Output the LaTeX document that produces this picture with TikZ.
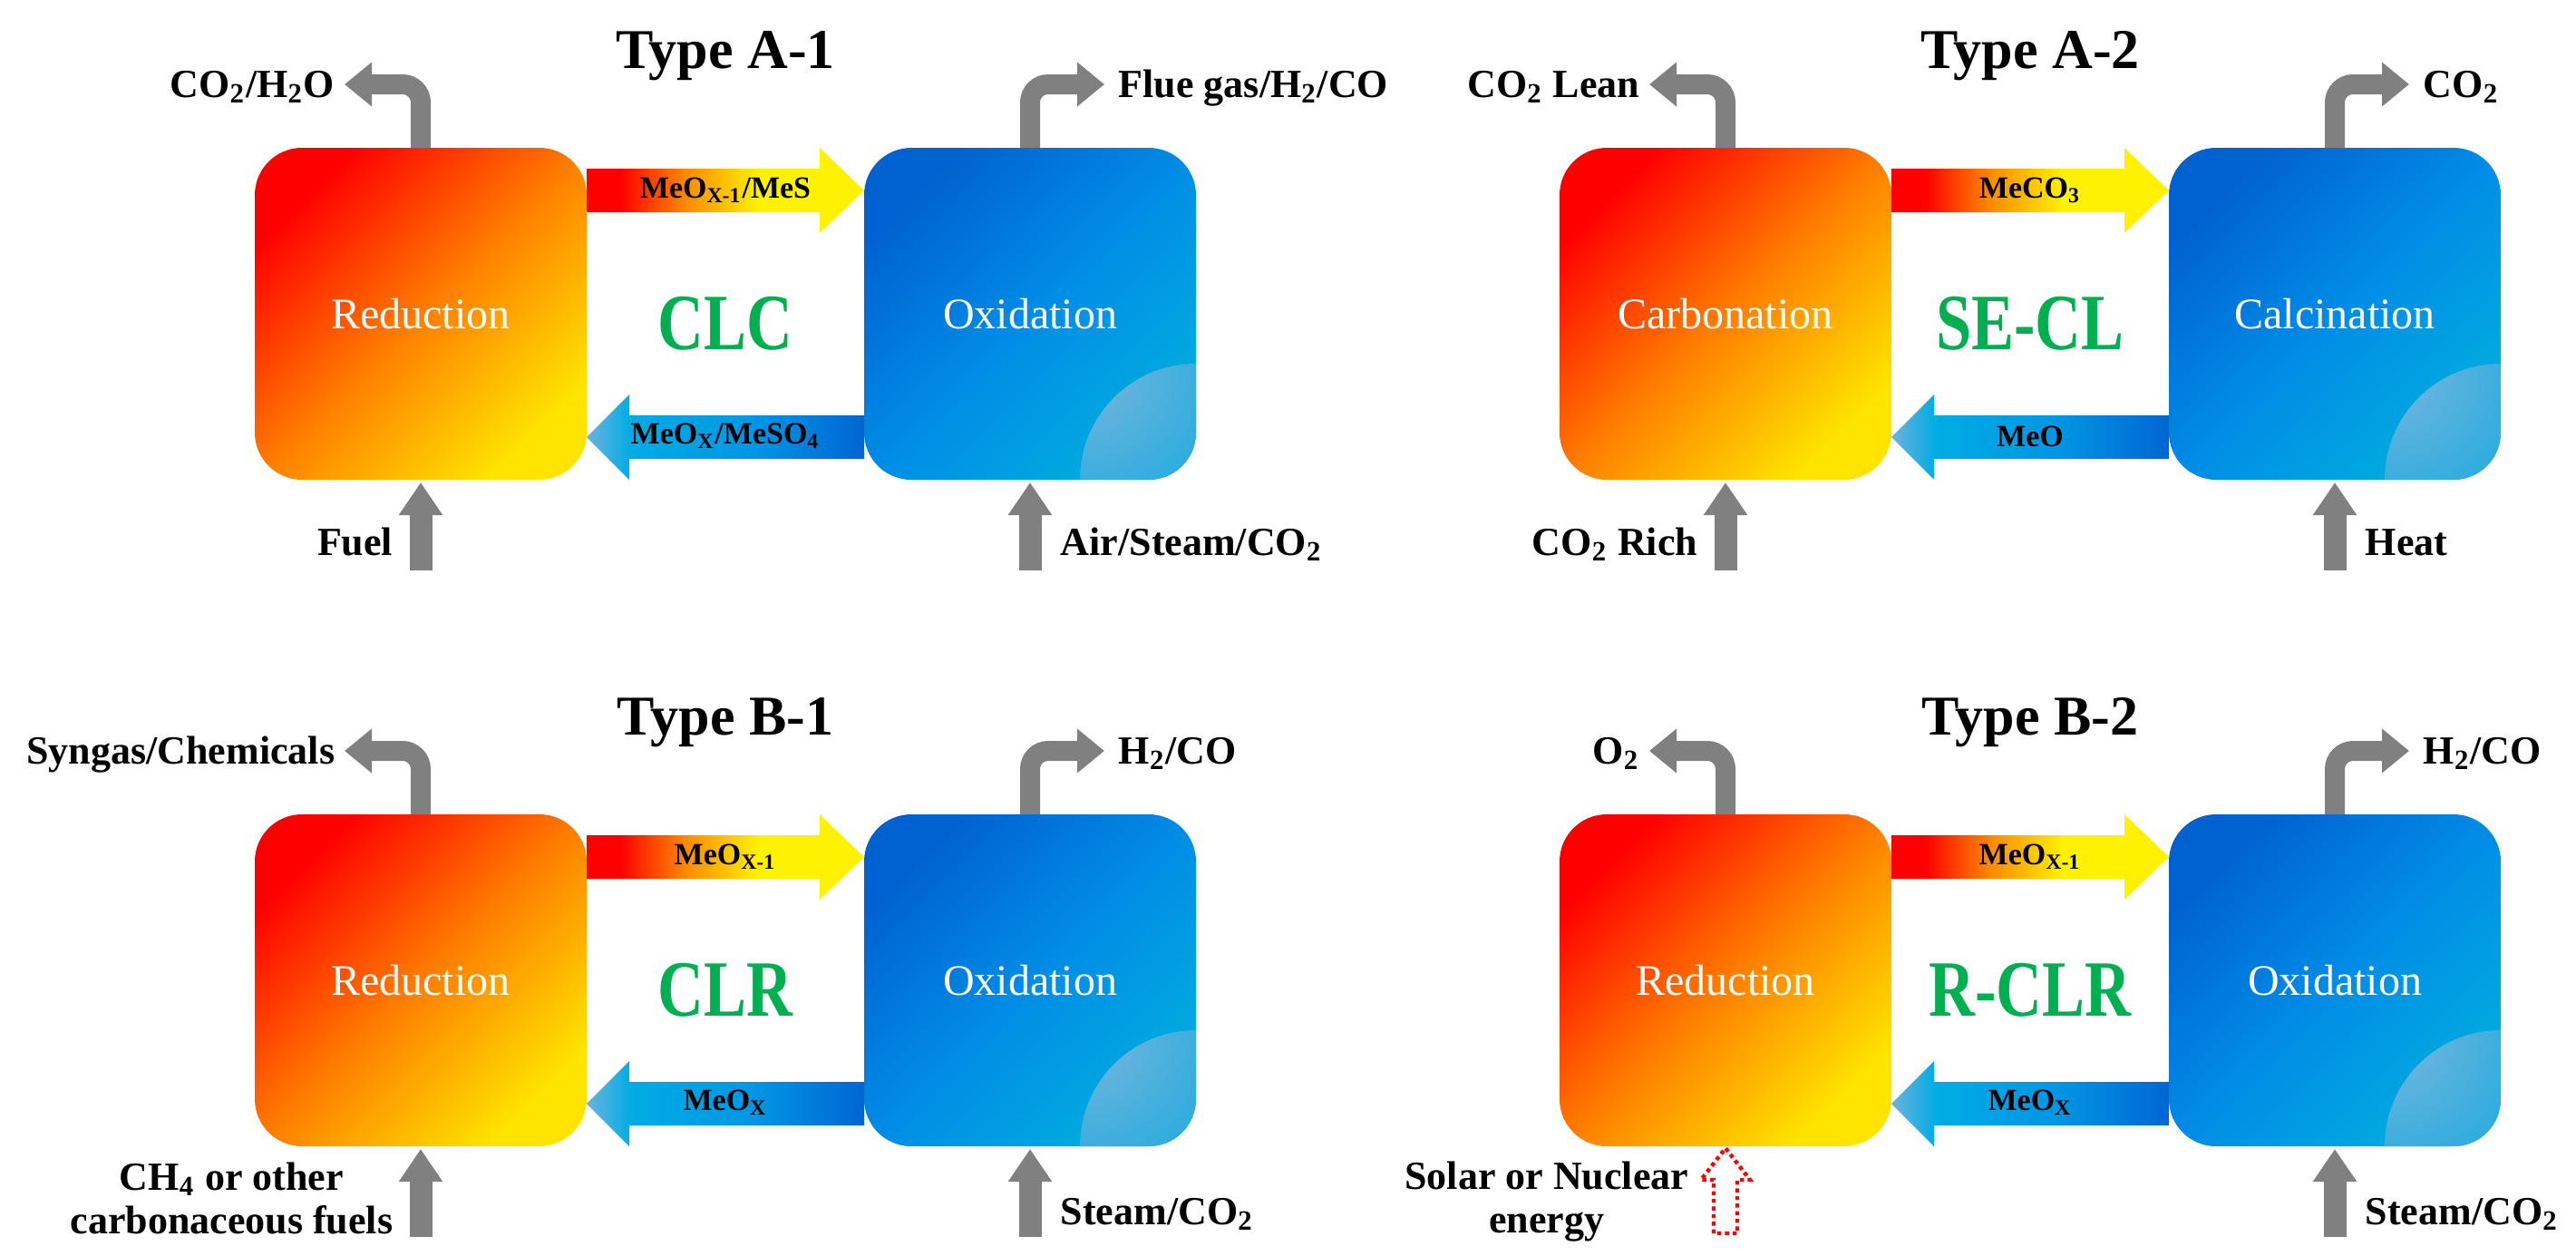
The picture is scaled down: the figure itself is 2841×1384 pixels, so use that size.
\documentclass[tikz,border=0pt]{standalone}
\usepackage{fontspec}
\setmainfont{Liberation Serif}
\newfontfamily\cyclefont{Liberation Serif}[FakeStretch=0.8]
\usepackage{tikz}
\usetikzlibrary{arrows.meta,calc}

\definecolor{gasgray}{RGB}{128,128,128}
\definecolor{loopgreen}{RGB}{0,176,80}
\definecolor{hotA}{RGB}{255,0,0}
\definecolor{hotB}{RGB}{255,125,0}
\definecolor{hotC}{RGB}{255,228,0}
\definecolor{coolA}{RGB}{0,98,208}
\definecolor{coolB}{RGB}{0,140,230}
\definecolor{coolC}{RGB}{0,172,222}
\definecolor{coolSpot}{RGB}{118,182,220}
\definecolor{fwdO}{RGB}{255,140,0}
\definecolor{fwdY}{RGB}{255,242,0}
\definecolor{backL}{RGB}{95,178,220}
\definecolor{backC}{RGB}{0,172,228}
\definecolor{backM}{RGB}{0,150,228}
\definecolor{backD}{RGB}{0,102,210}

\pgfdeclarehorizontalshading{fwdshade}{100bp}{color(0bp)=(hotA); color(31bp)=(hotA); color(43bp)=(fwdO); color(56bp)=(fwdY); color(100bp)=(fwdY)}
\pgfdeclarehorizontalshading{backshade}{100bp}{color(0bp)=(backL); color(26bp)=(backL); color(33bp)=(backC); color(55bp)=(backM); color(75bp)=(backD); color(100bp)=(backD)}

\tikzset{
  reactor/.style={rounded corners=13pt, minimum width=91.5pt, minimum height=91.5pt, inner sep=0pt, outer sep=0pt, text=white, font=\fontsize{12}{14}\selectfont},
  hotreactor/.style={reactor, top color=hotA, bottom color=hotC, middle color=hotB, shading angle=45},
  coolreactor/.style={reactor, top color=coolA, bottom color=coolC, middle color=coolB, shading angle=45,
    path picture={\shade[inner color=coolSpot, outer color=coolC!80!coolB] (path picture bounding box.south east) circle [radius=32pt];}},
  gaspipe/.style={draw=gasgray, line width=5.5pt, rounded corners=5pt, -{Triangle[width=11.75pt,length=7.5pt]}},
  feedpipe/.style={draw=gasgray, line width=6.25pt, -{Triangle[width=11.5pt,length=9pt]}, shorten >=0.75pt},
  fwdblock/.style={shading=fwdshade, to path={($(\tikztostart)+(0,23)$) -- ($(\tikztotarget)+(-49,23)$) -- ($(\tikztotarget)+(-49,0)$) -- ($(\tikztotarget)+(0,47)$) -- ($(\tikztotarget)+(-49,94)$) -- ($(\tikztotarget)+(-49,71)$) -- ($(\tikztostart)+(0,71)$) -- cycle}},
  backblock/.style={shading=backshade, to path={($(\tikztostart)+(0,-71)$) -- ($(\tikztotarget)+(47,-71)$) -- ($(\tikztotarget)+(47,-94)$) -- ($(\tikztotarget)+(0,-47)$) -- ($(\tikztotarget)+(47,0)$) -- ($(\tikztotarget)+(47,-23)$) -- ($(\tikztostart)+(0,-23)$) -- cycle}},
  heatblock/.style={draw=red, densely dotted, line width=1.1pt, to path={($(\tikztostart)+(-13,0)$) -- ($(\tikztotarget)+(-13,37)$) -- ($(\tikztotarget)+(-27,37)$) -- ($(\tikztotarget)+(0,2)$) -- ($(\tikztotarget)+(27,37)$) -- ($(\tikztotarget)+(13,37)$) -- ($(\tikztostart)+(13,0)$) -- cycle}},
  titletext/.style={font=\bfseries\fontsize{15.5}{18}\selectfont, inner sep=0pt, anchor=base},
  streamtext/.style={font=\bfseries\fontsize{11}{12}\selectfont, inner sep=0pt, align=center},
  chemtext/.style={font=\bfseries\fontsize{8.5}{10}\selectfont, inner sep=0pt},
  loopname/.style={font=\cyclefont\bfseries\fontsize{22}{24}\selectfont, text=loopgreen, inner sep=0pt, anchor=base}
}

\begin{document}
\begin{tikzpicture}[x=0.25pt,y=0.25pt,yscale=-1,xscale=1]
\useasboundingbox (0,0) rectangle (2841,1384);

%Type A-1
\node[titletext] (ttlA1) at (800,75) {Type A-1};
\node[hotreactor] (redA1) at (464,346) {Reduction};
\node[coolreactor] (oxA1) at (1136,346) {Oxidation};
\shade[fwdblock] (redA1.north east) to (oxA1.north west);
\shade[backblock] (oxA1.south west) to (redA1.south east);
\node[chemtext] (fwA1) at (800,210) {MeO\textsubscript{X-1}/MeS};
\node[chemtext] (bkA1) at (800,481) {MeO\textsubscript{X}/MeSO\textsubscript{4}};
\node[loopname] (lpA1) at (800,385) {CLC};
\coordinate (glA1) at (380,93);
\coordinate (grA1) at (1218,93);
\draw[gaspipe] (redA1.north) |- (glA1);
\draw[gaspipe] (oxA1.north) |- (grA1);
\node[streamtext, anchor=base east] (olA1) at (370,107) {CO\textsubscript{2}/H\textsubscript{2}O};
\node[streamtext, anchor=base west] (orA1) at (1233,107) {Flue gas/H\textsubscript{2}/CO};
\coordinate (flA1) at (464,629);
\coordinate (frA1) at (1136,629);
\draw[feedpipe] (flA1) -- (redA1.south);
\draw[feedpipe] (frA1) -- (oxA1.south);
\node[streamtext, anchor=base east] (ilA1) at (434,612) {Fuel};
\node[streamtext, anchor=base west] (irA1) at (1169,612) {Air/Steam/CO\textsubscript{2}};

%Type A-2
\node[titletext] (ttlA2) at (2239,75) {Type A-2};
\node[hotreactor] (redA2) at (1903,346) {Carbonation};
\node[coolreactor] (oxA2) at (2575,346) {Calcination};
\shade[fwdblock] (redA2.north east) to (oxA2.north west);
\shade[backblock] (oxA2.south west) to (redA2.south east);
\node[chemtext] (fwA2) at (2239,210) {MeCO\textsubscript{3}};
\node[chemtext] (bkA2) at (2239,481) {MeO};
\node[loopname] (lpA2) at (2239,385) {SE-CL};
\coordinate (glA2) at (1819,93);
\coordinate (grA2) at (2657,93);
\draw[gaspipe] (redA2.north) |- (glA2);
\draw[gaspipe] (oxA2.north) |- (grA2);
\node[streamtext, anchor=base east] (olA2) at (1809,107) {CO\textsubscript{2} Lean};
\node[streamtext, anchor=base west] (orA2) at (2672,107) {CO\textsubscript{2}};
\coordinate (flA2) at (1903,629);
\coordinate (frA2) at (2575,629);
\draw[feedpipe] (flA2) -- (redA2.south);
\draw[feedpipe] (frA2) -- (oxA2.south);
\node[streamtext, anchor=base east] (ilA2) at (1873,612) {CO\textsubscript{2} Rich};
\node[streamtext, anchor=base west] (irA2) at (2608,612) {Heat};

%Type B-1
\node[titletext] (ttlB1) at (800,810) {Type B-1};
\node[hotreactor] (redB1) at (464,1081) {Reduction};
\node[coolreactor] (oxB1) at (1136,1081) {Oxidation};
\shade[fwdblock] (redB1.north east) to (oxB1.north west);
\shade[backblock] (oxB1.south west) to (redB1.south east);
\node[chemtext] (fwB1) at (800,945) {MeO\textsubscript{X-1}};
\node[chemtext] (bkB1) at (800,1216) {MeO\textsubscript{X}};
\node[loopname] (lpB1) at (800,1120) {CLR};
\coordinate (glB1) at (380,828);
\coordinate (grB1) at (1218,828);
\draw[gaspipe] (redB1.north) |- (glB1);
\draw[gaspipe] (oxB1.north) |- (grB1);
\node[streamtext, anchor=base east] (olB1) at (370,842) {Syngas/Chemicals};
\node[streamtext, anchor=base west] (orB1) at (1233,842) {H\textsubscript{2}/CO};
\coordinate (flB1) at (464,1364);
\coordinate (frB1) at (1136,1364);
\draw[feedpipe] (flB1) -- (redB1.south);
\draw[feedpipe] (frB1) -- (oxB1.south);
\node[streamtext, anchor=base east] (ilB1) at (434,1360) {CH\textsubscript{4} or other\\carbonaceous fuels};
\node[streamtext, anchor=base west] (irB1) at (1169,1350) {Steam/CO\textsubscript{2}};

%Type B-2
\node[titletext] (ttlB2) at (2239,810) {Type B-2};
\node[hotreactor] (redB2) at (1903,1081) {Reduction};
\node[coolreactor] (oxB2) at (2575,1081) {Oxidation};
\shade[fwdblock] (redB2.north east) to (oxB2.north west);
\shade[backblock] (oxB2.south west) to (redB2.south east);
\node[chemtext] (fwB2) at (2239,945) {MeO\textsubscript{X-1}};
\node[chemtext] (bkB2) at (2239,1216) {MeO\textsubscript{X}};
\node[loopname] (lpB2) at (2239,1120) {R-CLR};
\coordinate (glB2) at (1819,828);
\coordinate (grB2) at (2657,828);
\draw[gaspipe] (redB2.north) |- (glB2);
\draw[gaspipe] (oxB2.north) |- (grB2);
\node[streamtext, anchor=base east] (olB2) at (1809,842) {O\textsubscript{2}};
\node[streamtext, anchor=base west] (orB2) at (2672,842) {H\textsubscript{2}/CO};
\coordinate (flB2) at (1903,1360);
\coordinate (frB2) at (2575,1364);
\draw[heatblock] (flB2) to (redB2.south);
\draw[feedpipe] (frB2) -- (oxB2.south);
\node[streamtext, anchor=base east] (ilB2) at (1863,1359) {Solar or Nuclear\\energy};
\node[streamtext, anchor=base west] (irB2) at (2608,1350) {Steam/CO\textsubscript{2}};

\end{tikzpicture}
\end{document}
